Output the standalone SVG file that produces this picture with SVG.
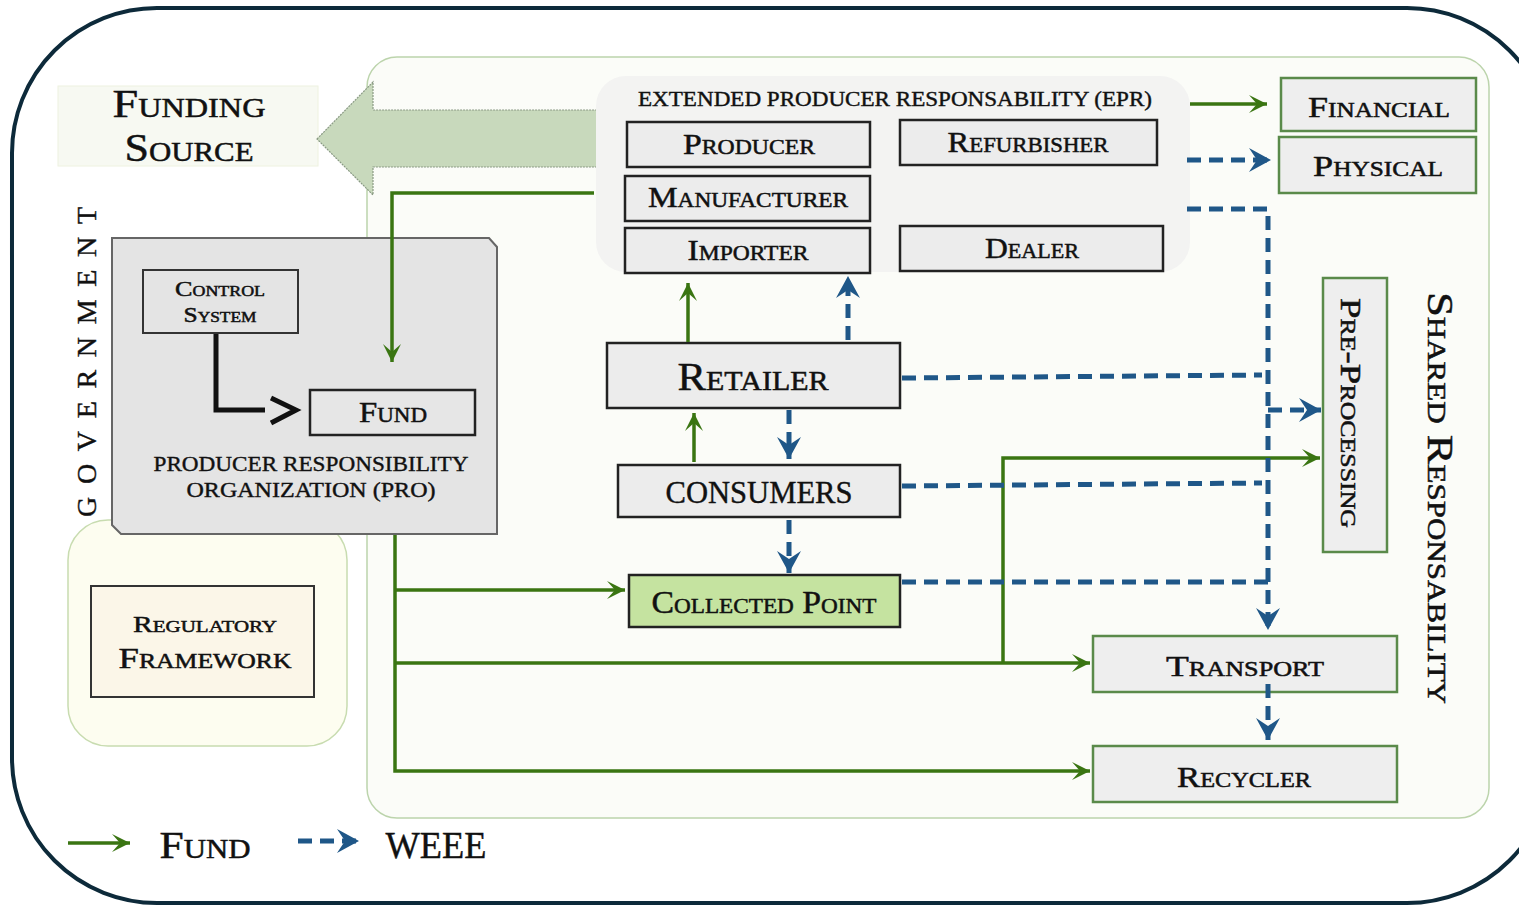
<svg xmlns="http://www.w3.org/2000/svg" width="1519" height="905" viewBox="0 0 1519 905">
<defs>
<style>
.t{font-family:"Liberation Serif","Times New Roman",serif;font-variant:small-caps;fill:#111;stroke:#111;stroke-width:0.5;text-anchor:middle}
.c{font-family:"Liberation Serif","Times New Roman",serif;fill:#111;stroke:#111;stroke-width:0.4;text-anchor:middle}
.box{fill:#ececec;stroke:#222;stroke-width:2.5}
.gbox{fill:#eeeeee;stroke:#5a8a4a;stroke-width:2.5}
.g{fill:none;stroke:#3a7512;stroke-width:3.5}
.b{fill:none;stroke:#1f5788;stroke-width:5;stroke-dasharray:14 8}
</style>
<marker id="ag" markerUnits="userSpaceOnUse" markerWidth="24" markerHeight="24" refX="20" refY="12" orient="auto">
<path d="M2,3 L20,12 L2,21 L10,12 z" fill="#3a7512"/>
</marker>
<marker id="ab" markerUnits="userSpaceOnUse" markerWidth="28" markerHeight="28" refX="24" refY="14" orient="auto">
<path d="M2,2 L24,14 L2,26 L10,14 z" fill="#1f5788"/>
</marker>
</defs>
<rect x="0" y="0" width="1519" height="905" fill="#ffffff"/>
<rect id="frame" x="12" y="8" width="1540" height="895" rx="145" fill="#ffffff" stroke="#0d2a3a" stroke-width="4"/>

<g id="shared-region">
<rect x="367" y="57" width="1122" height="761" rx="30" fill="#fbfcf8" stroke="#bcd4ac" stroke-width="1.5"/>
<text class="t" transform="translate(1428,498) rotate(90)" font-size="36" textLength="412" lengthAdjust="spacingAndGlyphs">Shared Responsability</text>
</g>

<g id="regulatory-region">
<rect x="68" y="520" width="279" height="226" rx="40" fill="#fdfdf0" stroke="#c8dcb0" stroke-width="1.5"/>
</g>

<g id="funding-source">
<rect x="58" y="86" width="260" height="80" fill="#f7f9f2" stroke="#eef2e0" stroke-width="1"/>
<text class="t" x="189" y="117" font-size="40" textLength="153" lengthAdjust="spacingAndGlyphs">Funding</text>
<text class="t" x="189" y="161" font-size="40" textLength="129" lengthAdjust="spacingAndGlyphs">Source</text>
</g>

<g id="big-arrow">
<polygon points="317,139 373,82 373,110 602,110 602,167 373,167 373,195" fill="#c8d9bc" stroke="#8a9a84" stroke-width="1.2" stroke-dasharray="2 1"/>
</g>

<g id="epr">
<rect x="596" y="76" width="594" height="196" rx="30" fill="#f3f3f2"/>
<text class="c" x="895" y="106" font-size="20" textLength="514" lengthAdjust="spacingAndGlyphs">EXTENDED PRODUCER RESPONSABILITY (EPR)</text>
</g>
<g id="producer"><rect class="box" x="627" y="122" width="243" height="45"/><text class="t" x="749" y="154" font-size="30" textLength="132" lengthAdjust="spacingAndGlyphs">Producer</text></g>
<g id="refurbisher"><rect class="box" x="900" y="120" width="257" height="45"/><text class="t" x="1028" y="152" font-size="30" textLength="161" lengthAdjust="spacingAndGlyphs">Refurbisher</text></g>
<g id="manufacturer"><rect class="box" x="625" y="176" width="245" height="45"/><text class="t" x="748" y="207" font-size="30" textLength="200" lengthAdjust="spacingAndGlyphs">Manufacturer</text></g>
<g id="importer"><rect class="box" x="625" y="228" width="245" height="45"/><text class="t" x="748" y="260" font-size="30" textLength="121" lengthAdjust="spacingAndGlyphs">Importer</text></g>
<g id="dealer"><rect class="box" x="900" y="226" width="263" height="45"/><text class="t" x="1032" y="258" font-size="30" textLength="94" lengthAdjust="spacingAndGlyphs">Dealer</text></g>

<g id="financial"><rect class="gbox" x="1281" y="78" width="195" height="53"/><text class="t" x="1379" y="117" font-size="30" textLength="142" lengthAdjust="spacingAndGlyphs">Financial</text></g>
<g id="physical"><rect class="gbox" x="1279" y="137" width="197" height="56"/><text class="t" x="1378" y="176" font-size="30" textLength="130" lengthAdjust="spacingAndGlyphs">Physical</text></g>

<g id="government">
<polygon points="112,238 489,238 497,247 497,534 121,534 112,525" fill="#e4e4e4" stroke="#666" stroke-width="2"/>
<text class="c" transform="translate(96,356) rotate(-90)" font-size="28" letter-spacing="12" textLength="322" lengthAdjust="spacing">GOVERNMENT</text>
<text class="c" x="311" y="471" font-size="22" textLength="315" lengthAdjust="spacingAndGlyphs">PRODUCER RESPONSIBILITY</text>
<text class="c" x="311" y="497" font-size="22" textLength="249" lengthAdjust="spacingAndGlyphs">ORGANIZATION (PRO)</text>
</g>
<g id="control-system"><rect x="143" y="270" width="155" height="63" fill="#e4e4e4" stroke="#333" stroke-width="2"/>
<text class="t" x="220" y="296" font-size="22" textLength="90" lengthAdjust="spacingAndGlyphs">Control</text>
<text class="t" x="220" y="322" font-size="22" textLength="73" lengthAdjust="spacingAndGlyphs">System</text></g>
<g id="fund-inner"><rect x="310" y="390" width="165" height="45" fill="#e6e6e6" stroke="#222" stroke-width="2.5"/><text class="t" x="393" y="422" font-size="30" textLength="68" lengthAdjust="spacingAndGlyphs">Fund</text></g>

<g id="regulatory-framework"><rect x="91" y="586" width="223" height="111" fill="#fbf6e8" stroke="#333" stroke-width="2"/>
<text class="t" x="205" y="632" font-size="24" textLength="144" lengthAdjust="spacingAndGlyphs">Regulatory</text>
<text class="t" x="205" y="668" font-size="30" textLength="173" lengthAdjust="spacingAndGlyphs">Framework</text></g>

<g id="retailer"><rect class="box" x="607" y="343" width="293" height="65"/><text class="t" x="753" y="390" font-size="40" textLength="151" lengthAdjust="spacingAndGlyphs">Retailer</text></g>
<g id="consumers"><rect class="box" x="618" y="465" width="282" height="52"/><text class="c" x="759" y="503" font-size="32" textLength="187" lengthAdjust="spacingAndGlyphs">CONSUMERS</text></g>
<g id="collected-point"><rect x="629" y="575" width="271" height="52" fill="#c5e3a0" stroke="#222" stroke-width="2.5"/><text class="t" x="764" y="613" font-size="32" textLength="225" lengthAdjust="spacingAndGlyphs">Collected Point</text></g>

<g id="pre-processing"><rect class="gbox" x="1323" y="278" width="64" height="274"/><text class="t" transform="translate(1341,413) rotate(90)" font-size="30" textLength="230" lengthAdjust="spacingAndGlyphs">Pre-Processing</text></g>
<g id="transport"><rect class="gbox" x="1093" y="636" width="304" height="56"/><text class="t" x="1245" y="676" font-size="30" textLength="158" lengthAdjust="spacingAndGlyphs">Transport</text></g>
<g id="recycler"><rect class="gbox" x="1093" y="746" width="304" height="56"/><text class="t" x="1244" y="787" font-size="30" textLength="134" lengthAdjust="spacingAndGlyphs">Recycler</text></g>

<g id="connectors">
<polyline points="216,334 216,410 265,410" fill="none" stroke="#111" stroke-width="5"/>
<polyline points="271,398 296,410 271,423" fill="none" stroke="#111" stroke-width="5" stroke-linejoin="miter"/>
<polyline class="g" points="594,193 392,193 392,362" marker-end="url(#ag)"/>
<polyline class="g" points="395,535 395,771 1090,771" marker-end="url(#ag)"/>
<line class="g" x1="395" y1="590" x2="625" y2="590" marker-end="url(#ag)"/>
<line class="g" x1="395" y1="663" x2="1090" y2="663" marker-end="url(#ag)"/>
<polyline class="g" points="1003,663 1003,458 1320,458" marker-end="url(#ag)"/>
<line class="g" x1="694" y1="462" x2="694" y2="413" marker-end="url(#ag)"/>
<line class="g" x1="688" y1="342" x2="688" y2="283" marker-end="url(#ag)"/>
<line class="g" x1="1190" y1="104" x2="1267" y2="104" marker-end="url(#ag)"/>
<line class="b" x1="848" y1="340" x2="848" y2="276" marker-end="url(#ab)"/>
<line class="b" x1="789" y1="410" x2="789" y2="459" marker-end="url(#ab)"/>
<line class="b" x1="789" y1="520" x2="789" y2="573" marker-end="url(#ab)"/>
<line class="b" x1="1187" y1="160" x2="1271" y2="160" marker-end="url(#ab)"/>
<polyline class="b" points="1187,209 1268,209 1268,630" marker-end="url(#ab)"/>
<polyline class="b" points="902,378 1262,375"/>
<polyline class="b" points="902,486 1262,483"/>
<polyline class="b" points="902,582 1268,582"/>
<polyline class="b" points="1268,410 1321,410" marker-end="url(#ab)"/>
<line class="b" x1="1268" y1="684" x2="1268" y2="740" marker-end="url(#ab)"/>
</g>

<g id="legend">
<line class="g" x1="68" y1="843" x2="130" y2="843" marker-end="url(#ag)"/>
<text class="t" x="205" y="858" font-size="38" textLength="91" lengthAdjust="spacingAndGlyphs">Fund</text>
<line class="b" x1="298" y1="841" x2="359" y2="841" marker-end="url(#ab)"/>
<text class="c" x="436" y="858" font-size="38" textLength="101" lengthAdjust="spacingAndGlyphs">WEEE</text>
</g>
</svg>
